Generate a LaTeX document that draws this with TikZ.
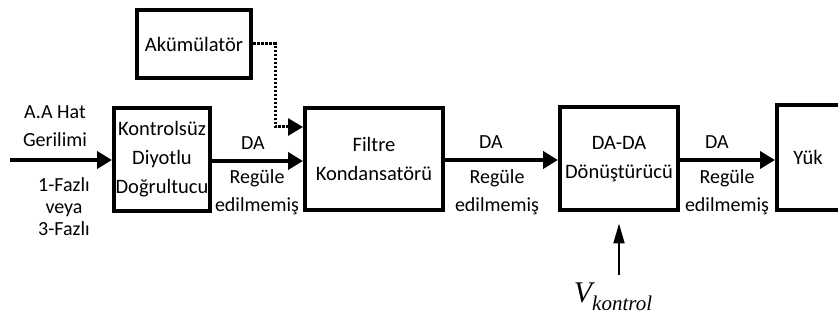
\documentclass[tikz,border=0pt]{standalone}
\usepackage{fontspec}
\setmainfont{Carlito}
\newfontfamily\vfont{Liberation Serif}
\usetikzlibrary{arrows.meta}
\begin{document}
\begin{tikzpicture}[x=1pt,y=-1pt,
  blk/.style={draw,line width=4pt,inner sep=0pt,align=center,font=\fontsize{20.5}{29}\selectfont},
  lbl/.style={align=center,inner sep=0pt,font=\fontsize{20}{28}\selectfont},
  flow/.style={line width=4.5pt,-{Triangle[length=15pt,width=17pt]}},
  dots/.style={line width=3pt,dash pattern=on 2.5pt off 1.5pt},
  thin/.style={line width=2pt,-{Triangle[length=20pt,width=11pt]}},
]
\useasboundingbox (0,0) rectangle (838,320);
% boxes
\node[blk,minimum width=114pt,minimum height=68pt] (akum) at (194,44) {Akümülatör};
\node[blk,minimum width=96pt,minimum height=103pt] (kont) at (162,159.5) {Kontrolsüz\\Diyotlu\\Doğrultucu};
\node[blk,minimum width=138pt,minimum height=102pt] (filt) at (374,159) {Filtre\\Kondansatörü};
\node[blk,minimum width=118pt,minimum height=103pt] (dada) at (619,159) {DA-DA\\Dönüştürücü};
\node[blk,minimum width=90pt,minimum height=105pt] (yukbox) at (822,157.5) {};
\node[lbl,font=\fontsize{20.5}{29}\selectfont] (yuk) at (808,157) {Yük};
% input
\coordinate (in) at (10,160);
\draw[flow] (in) -- (in -| kont.west);
\node[lbl] (aa) at (55,126) {A.A Hat\\Gerilimi};
\node[lbl,font=\fontsize{20}{22}\selectfont] (faz) at (64,207) {1-Fazlı\\veya\\3-Fazlı};
% arrows between blocks
\coordinate (a1) at (212,161);
\draw[flow] (a1) -- (a1 -| filt.west);
\node[lbl] (da1) at (253,143) {DA};
\node[lbl] (re1) at (257,192) {Regüle\\edilmemiş};
\coordinate (a2) at (445,160);
\draw[flow] (a2) -- (a2 -| dada.west);
\node[lbl] (da2) at (491,142) {DA};
\node[lbl] (re2) at (497,192) {Regüle\\edilmemiş};
\coordinate (a3) at (680,160);
\draw[flow] (a3) -- (a3 -| yukbox.west);
\node[lbl] (da3) at (717,142) {DA};
\node[lbl] (re3) at (727,192) {Regüle\\edilmemiş};
% dotted from accumulator
\coordinate (dc) at (275,127);
\coordinate (de) at (286,127);
\draw[dots] (akum.east) -| (dc) -- (de);
\draw[line width=3pt,-{Triangle[length=15pt,width=17pt]}] (de) -- (de -| filt.west);
% V kontrol
\node[inner sep=0pt] (vk) at (613,297) {\vfont\itshape\fontsize{30}{30}\selectfont V\raisebox{-8pt}{\fontsize{21}{21}\selectfont kontrol}};
\coordinate (vs) at (619,275);
\draw[thin,shorten >=11pt] (vs) -- (dada.south);
\end{tikzpicture}
\end{document}
